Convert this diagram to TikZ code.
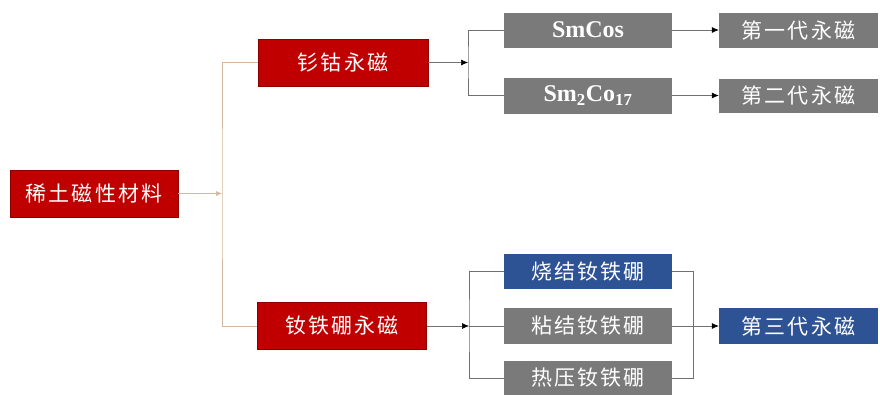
\documentclass[tikz,border=0pt]{standalone}
\usepackage{fontspec}
\newfontfamily\cjk[LetterSpace=10]{Noto Sans CJK SC}
\newfontfamily\tnr{Liberation Serif}
\usetikzlibrary{arrows.meta}
\definecolor{redbox}{HTML}{C00000}
\definecolor{redborder}{HTML}{8E0000}
\definecolor{graybox}{HTML}{7A7A7A}
\definecolor{bluebox}{HTML}{2E5395}
\definecolor{tanline}{HTML}{D2B8A0}
\definecolor{conn}{HTML}{707070}
\tikzset{
  box/.style={inner sep=0pt, text=white, font=\cjk\fontsize{21}{23}\selectfont},
  redb/.style={box, fill=redbox, draw=redborder, line width=0.8pt},
  grayb/.style={box, fill=graybox},
  blueb/.style={box, fill=bluebox},
  wide/.style={minimum width=168pt},
  narrow/.style={minimum width=159pt},
  link/.style={draw=conn, line width=0.6pt},
  tlink/.style={draw=tanline, line width=0.7pt},
  arr/.style={-{Latex[length=7pt,width=6pt,color=black]}},
  latin/.style={font=\tnr\bfseries\fontsize{24}{26}\selectfont}
}
\begin{document}
\begin{tikzpicture}[x=1pt,y=-1pt]
\useasboundingbox (0,0) rectangle (880,394);
% level 0
\node[redb, minimum width=168pt, minimum height=47pt] (root) at (94,193.5) {稀土磁性材料};
% level 1
\node[redb, minimum width=170pt, minimum height=47pt] (sc) at (343,62.5) {钐钴永磁};
\node[redb, minimum width=169pt, minimum height=47pt] (nd) at (342,326) {钕铁硼永磁};
% level 2
\node[grayb, wide, minimum height=35pt, latin] (smcos) at (588,30) {SmCos};
\node[grayb, wide, minimum height=36pt, latin] (sm2) at (588,95.5) {Sm\textsubscript{2}Co\textsubscript{17}};
\node[blueb, wide, minimum height=35pt] (sj) at (588,271.5) {烧结钕铁硼};
\node[grayb, wide, minimum height=36pt] (nj) at (588,326) {粘结钕铁硼};
\node[grayb, wide, minimum height=34pt] (ry) at (588,378) {热压钕铁硼};
% level 3
\node[grayb, narrow, minimum height=35pt] (g1) at (798.5,30) {第一代永磁};
\node[grayb, narrow, minimum height=34pt] (g2) at (798.5,95.5) {第二代永磁};
\node[blueb, narrow, minimum height=36pt] (g3) at (798.5,326) {第三代永磁};
% junction points
\coordinate (J0) at (222,193.5);
\coordinate (J1) at (468,62.5);
\coordinate (J2) at (469,326);
\coordinate (J3) at (693,326);
% connectors
\draw[tlink, -{Latex[length=6pt,width=5pt]}] (root.east) -- (J0);
\draw[tlink] (sc.west) -| (J0) |- (nd.west);
\draw[link, arr] (sc.east) -- (J1);
\draw[link] (smcos.west) -| (J1) |- (sm2.west);
\draw[link, arr] (smcos.east) -- (g1.west);
\draw[link, arr] (sm2.east) -- (g2.west);
\draw[link, arr] (nd.east) -- (J2);
\draw[link] (sj.west) -| (J2) |- (ry.west);
\draw[link] (J2) -- (nj.west);
\draw[link] (sj.east) -| (J3) |- (ry.east);
\draw[link, arr] (nj.east) -- (g3.west);
\end{tikzpicture}
\end{document}
